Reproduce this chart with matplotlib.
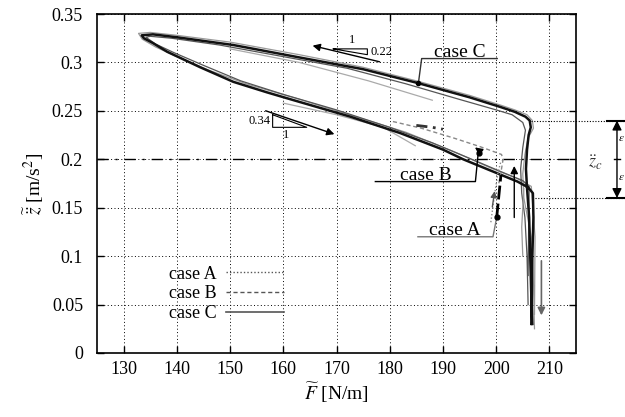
import matplotlib
matplotlib.use("Agg")
import matplotlib.pyplot as plt
from matplotlib.lines import Line2D

plt.rcParams["font.family"] = ["Liberation Serif", "DejaVu Serif"]
plt.rcParams["mathtext.fontset"] = "stix"

# --- data ---
x_ticks = [130, 140, 150, 160, 170, 180, 190, 200, 210]
y_ticks = [0, 0.05, 0.1, 0.15, 0.2, 0.25, 0.3, 0.35]
y_tick_labels = ["0", "0.05", "0.1", "0.15", "0.2", "0.25", "0.3", "0.35"]

# case C, main (black) cycle
c_x = [206.8, 206.6, 206.4, 206.2, 205.8, 205.6, 205.8, 206.1, 206.5, 206.3, 205.5, 203.5,
       200.8, 195.0, 185.1, 175.0, 163.2, 150.6, 140.0, 135.5, 133.4, 133.8, 135.5, 138.2,
       144.4, 150.6, 157.0, 163.2, 172.6, 182.0, 190.0, 193.8, 200.0, 204.0, 206.0, 206.9,
       207.0, 206.8, 206.7, 206.6]
c_y = [0.030, 0.060, 0.100, 0.140, 0.170, 0.190, 0.210, 0.225, 0.233, 0.240, 0.244, 0.249,
       0.254, 0.264, 0.279, 0.293, 0.305, 0.318, 0.326, 0.329, 0.328, 0.325, 0.320, 0.311,
       0.295, 0.280, 0.269, 0.259, 0.244, 0.227, 0.210, 0.200, 0.186, 0.177, 0.171, 0.165,
       0.140, 0.100, 0.060, 0.030]

# case C, other cycles (grey)
g1_x = [207.2, 207.0, 206.6, 205.2, 205.0, 205.4, 206.0, 207.0, 206.8, 205.8, 203.5, 200.8,
        195.0, 185.0, 175.0, 163.0, 150.0, 140.0, 135.0, 132.8, 133.5, 136.0, 140.0, 146.0,
        153.0, 163.0, 173.0, 183.0, 192.0, 199.0, 204.0, 206.6, 207.3, 207.2]
g1_y = [0.025, 0.070, 0.120, 0.160, 0.185, 0.205, 0.222, 0.232, 0.240, 0.246, 0.251, 0.256,
        0.266, 0.281, 0.295, 0.308, 0.321, 0.328, 0.331, 0.330, 0.324, 0.316, 0.306, 0.292,
        0.278, 0.262, 0.245, 0.228, 0.208, 0.191, 0.180, 0.172, 0.120, 0.040]
g2_x = [206.0, 205.8, 205.4, 204.8, 204.6, 205.0, 205.5, 205.0, 203.0, 200.0, 193.0, 183.0,
        172.0, 160.0, 148.0, 139.0, 135.0, 134.2, 136.0, 139.5, 145.0, 152.0, 160.0, 170.0,
        180.0, 188.0, 195.0, 201.0, 205.0, 206.2, 206.0]
g2_y = [0.050, 0.100, 0.140, 0.165, 0.190, 0.212, 0.230, 0.238, 0.246, 0.251, 0.262, 0.278,
        0.294, 0.306, 0.318, 0.325, 0.327, 0.326, 0.319, 0.310, 0.297, 0.281, 0.267, 0.251,
        0.233, 0.217, 0.201, 0.187, 0.178, 0.172, 0.080]
tail_up_x = [150.0, 163.0, 176.0, 188.0]
tail_up_y = [0.314, 0.300, 0.281, 0.261]
tail_lo_x = [160.0, 170.0, 178.8, 184.8]
tail_lo_y = [0.258, 0.246, 0.233, 0.214]
wisp_x = [205.2, 204.8, 205.0]
wisp_y = [0.170, 0.130, 0.100]

# case B
b_x = [180.6, 186.0, 192.0, 197.0, 201.0, 201.3, 201.0, 200.5]
b_y = [0.239, 0.232, 0.222, 0.213, 0.205, 0.200, 0.190, 0.175]
b_blob_x = [185.0, 188.0, 190.0]
b_blob_y = [0.235, 0.233, 0.231]

# case A
a_x = [199.0, 199.6, 200.3, 200.8, 201.4]
a_y = [0.135, 0.160, 0.185, 0.196, 0.200]
a_dark_x = [200.1, 200.5, 200.9]
a_dark_y = [0.140, 0.162, 0.184]

z_c = 0.2
eps = 0.04

fig = plt.figure(figsize=(6.25, 4.17), dpi=100)
ax = fig.add_axes([0.1552, 0.1535, 0.7664, 0.8129])

ax.grid(True, linestyle=(0, (1, 2.5)), color="black", linewidth=0.7)
ax.axhline(z_c, color="black", linewidth=1.0, linestyle=(0, (8, 5, 1.5, 5)))

ax.plot(g1_x, g1_y, color="#999999", lw=0.9)
ax.plot(g2_x, g2_y, color="#555555", lw=0.9)
ax.plot(tail_up_x, tail_up_y, color="#aaaaaa", lw=0.9)
ax.plot(tail_lo_x, tail_lo_y, color="#aaaaaa", lw=0.9)
ax.plot(wisp_x, wisp_y, color="#999999", lw=0.9)
ax.plot(c_x, c_y, color="#111111", lw=1.8)

ax.plot(b_x, b_y, color="#888888", lw=1.0, linestyle=(0, (3, 2)))
ax.plot(b_blob_x, b_blob_y, color="#333333", lw=2.0, linestyle=(0, (4, 2, 1, 2)))
ax.plot(a_x, a_y, color="#888888", lw=1.0, linestyle=(0, (1, 1.5)))
ax.plot(a_dark_x, a_dark_y, color="black", lw=2.0, linestyle=(0, (5, 1.5)))

# direction arrows
arr = dict(arrowstyle="-|>", color="black", lw=1.0, mutation_scale=11)
ax.annotate("", xy=(165.0, 0.318), xytext=(178.6, 0.300), arrowprops=arr)
ax.annotate("", xy=(170.1, 0.225), xytext=(156.2, 0.251), arrowprops=arr)
ax.annotate("", xy=(203.4, 0.196), xytext=(203.4, 0.137), arrowprops=arr)
ax.annotate("", xy=(208.5, 0.036), xytext=(208.5, 0.098),
            arrowprops=dict(arrowstyle="-|>", color="#666666", lw=1.2, mutation_scale=11))
ax.annotate("", xy=(195.6, 0.214), xytext=(197.3, 0.207), arrowprops=arr)
ax.annotate("", xy=(199.8, 0.170), xytext=(199.2, 0.148),
            arrowprops=dict(arrowstyle="-|>", color="#555555", lw=1.0, mutation_scale=9))

# slope triangles
tri_up_x = [169.4, 175.8, 175.8, 169.4]
tri_up_y = [0.314, 0.314, 0.308, 0.314]
tri_lo_x = [158.0, 158.0, 164.4, 158.0]
tri_lo_y = [0.246, 0.233, 0.233, 0.246]
ax.plot(tri_up_x, tri_up_y, color="black", lw=0.8)
ax.plot(tri_lo_x, tri_lo_y, color="black", lw=0.8)
ax.text(172.9, 0.317, "1", fontsize=9, ha="center", va="bottom")
ax.text(176.4, 0.311, "0.22", fontsize=9, ha="left", va="center")
ax.text(157.6, 0.240, "0.34", fontsize=9, ha="right", va="center")
ax.text(160.6, 0.231, "1", fontsize=9, ha="center", va="top")

# case labels with leaders
ax.plot([200.2, 186.0, 185.4], [0.304, 0.304, 0.279], color="#333333", lw=1.0)
ax.plot([185.4], [0.279], "o", color="black", ms=3)
ax.text(193.2, 0.306, "case C", fontsize=14, ha="center", va="baseline")
ax.plot([177.3, 196.1, 196.6], [0.177, 0.177, 0.205], color="black", lw=1.0)
ax.plot([196.8], [0.206], "o", color="black", ms=3.5)
ax.text(186.7, 0.179, "case B", fontsize=14, ha="center", va="baseline")
ax.plot([185.3, 199.4, 200.1], [0.120, 0.120, 0.140], color="#777777", lw=1.0)
ax.plot([200.1], [0.140], "o", color="black", ms=3.5)
ax.text(192.3, 0.122, "case A", fontsize=14, ha="center", va="baseline")

# z_c +/- eps band outside the axes
ax.plot([206.5, 224.6], [z_c + eps, z_c + eps], color="black", lw=0.8,
        linestyle=(0, (1, 1.5)), clip_on=False)
ax.plot([207.3, 224.6], [z_c - eps, z_c - eps], color="black", lw=0.8,
        linestyle=(0, (1, 1.5)), clip_on=False)
band = dict(arrowstyle="-|>", color="black", lw=1.0, mutation_scale=14, shrinkA=0, shrinkB=0)
ax.annotate("", xy=(222.7, z_c + eps), xytext=(222.7, z_c), arrowprops=band,
            annotation_clip=False)
ax.annotate("", xy=(222.7, z_c - eps), xytext=(222.7, z_c), arrowprops=band,
            annotation_clip=False)
ax.plot([220.8, 224.6], [z_c + eps, z_c + eps], color="black", lw=1.5, clip_on=False)
ax.plot([220.8, 224.6], [z_c - eps, z_c - eps], color="black", lw=1.5, clip_on=False)
ax.plot([222.2, 223.2], [z_c, z_c], color="black", lw=1.0, clip_on=False)
ax.text(218.6, 0.196, r"$\ddot{z}_c$", fontsize=13, ha="center", va="center", color="#333333")
ax.text(222.95, 0.221, r"$\varepsilon$", fontsize=8, ha="left", va="center")
ax.text(222.95, 0.181, r"$\varepsilon$", fontsize=8, ha="left", va="center")

ax.set_xlim(125, 215)
ax.set_ylim(0, 0.35)
ax.set_xticks(x_ticks)
ax.set_yticks(y_ticks)
ax.set_yticklabels(y_tick_labels)
ax.tick_params(direction="in", top=True, right=True, length=5, width=1.0,
               labelsize=13)
ax.tick_params(axis="x", pad=6)
ax.tick_params(axis="y", pad=10)
for s in ax.spines.values():
    s.set_linewidth(1.2)

ax.set_xlabel(r"$\widetilde{F}$ [N/m]", fontsize=14, labelpad=2)
ax.set_ylabel(r"$\widetilde{\ddot{z}}$ [m/s$^2$]", fontsize=14, labelpad=4)

handles = [Line2D([], [], color="#555555", lw=1.0, linestyle=(0, (1, 1.5))),
           Line2D([], [], color="#555555", lw=1.0, linestyle=(0, (3, 2))),
           Line2D([], [], color="#555555", lw=1.2)]
leg = ax.legend(handles, ["case A", "case B", "case C"], loc="upper right",
                bbox_to_anchor=(0.39, 0.258), frameon=False, markerfirst=False,
                fontsize=13, handlelength=3.2, labelspacing=0.15, borderpad=0,
                borderaxespad=0, handletextpad=0.5)

fig.savefig("out.png", dpi=100)
